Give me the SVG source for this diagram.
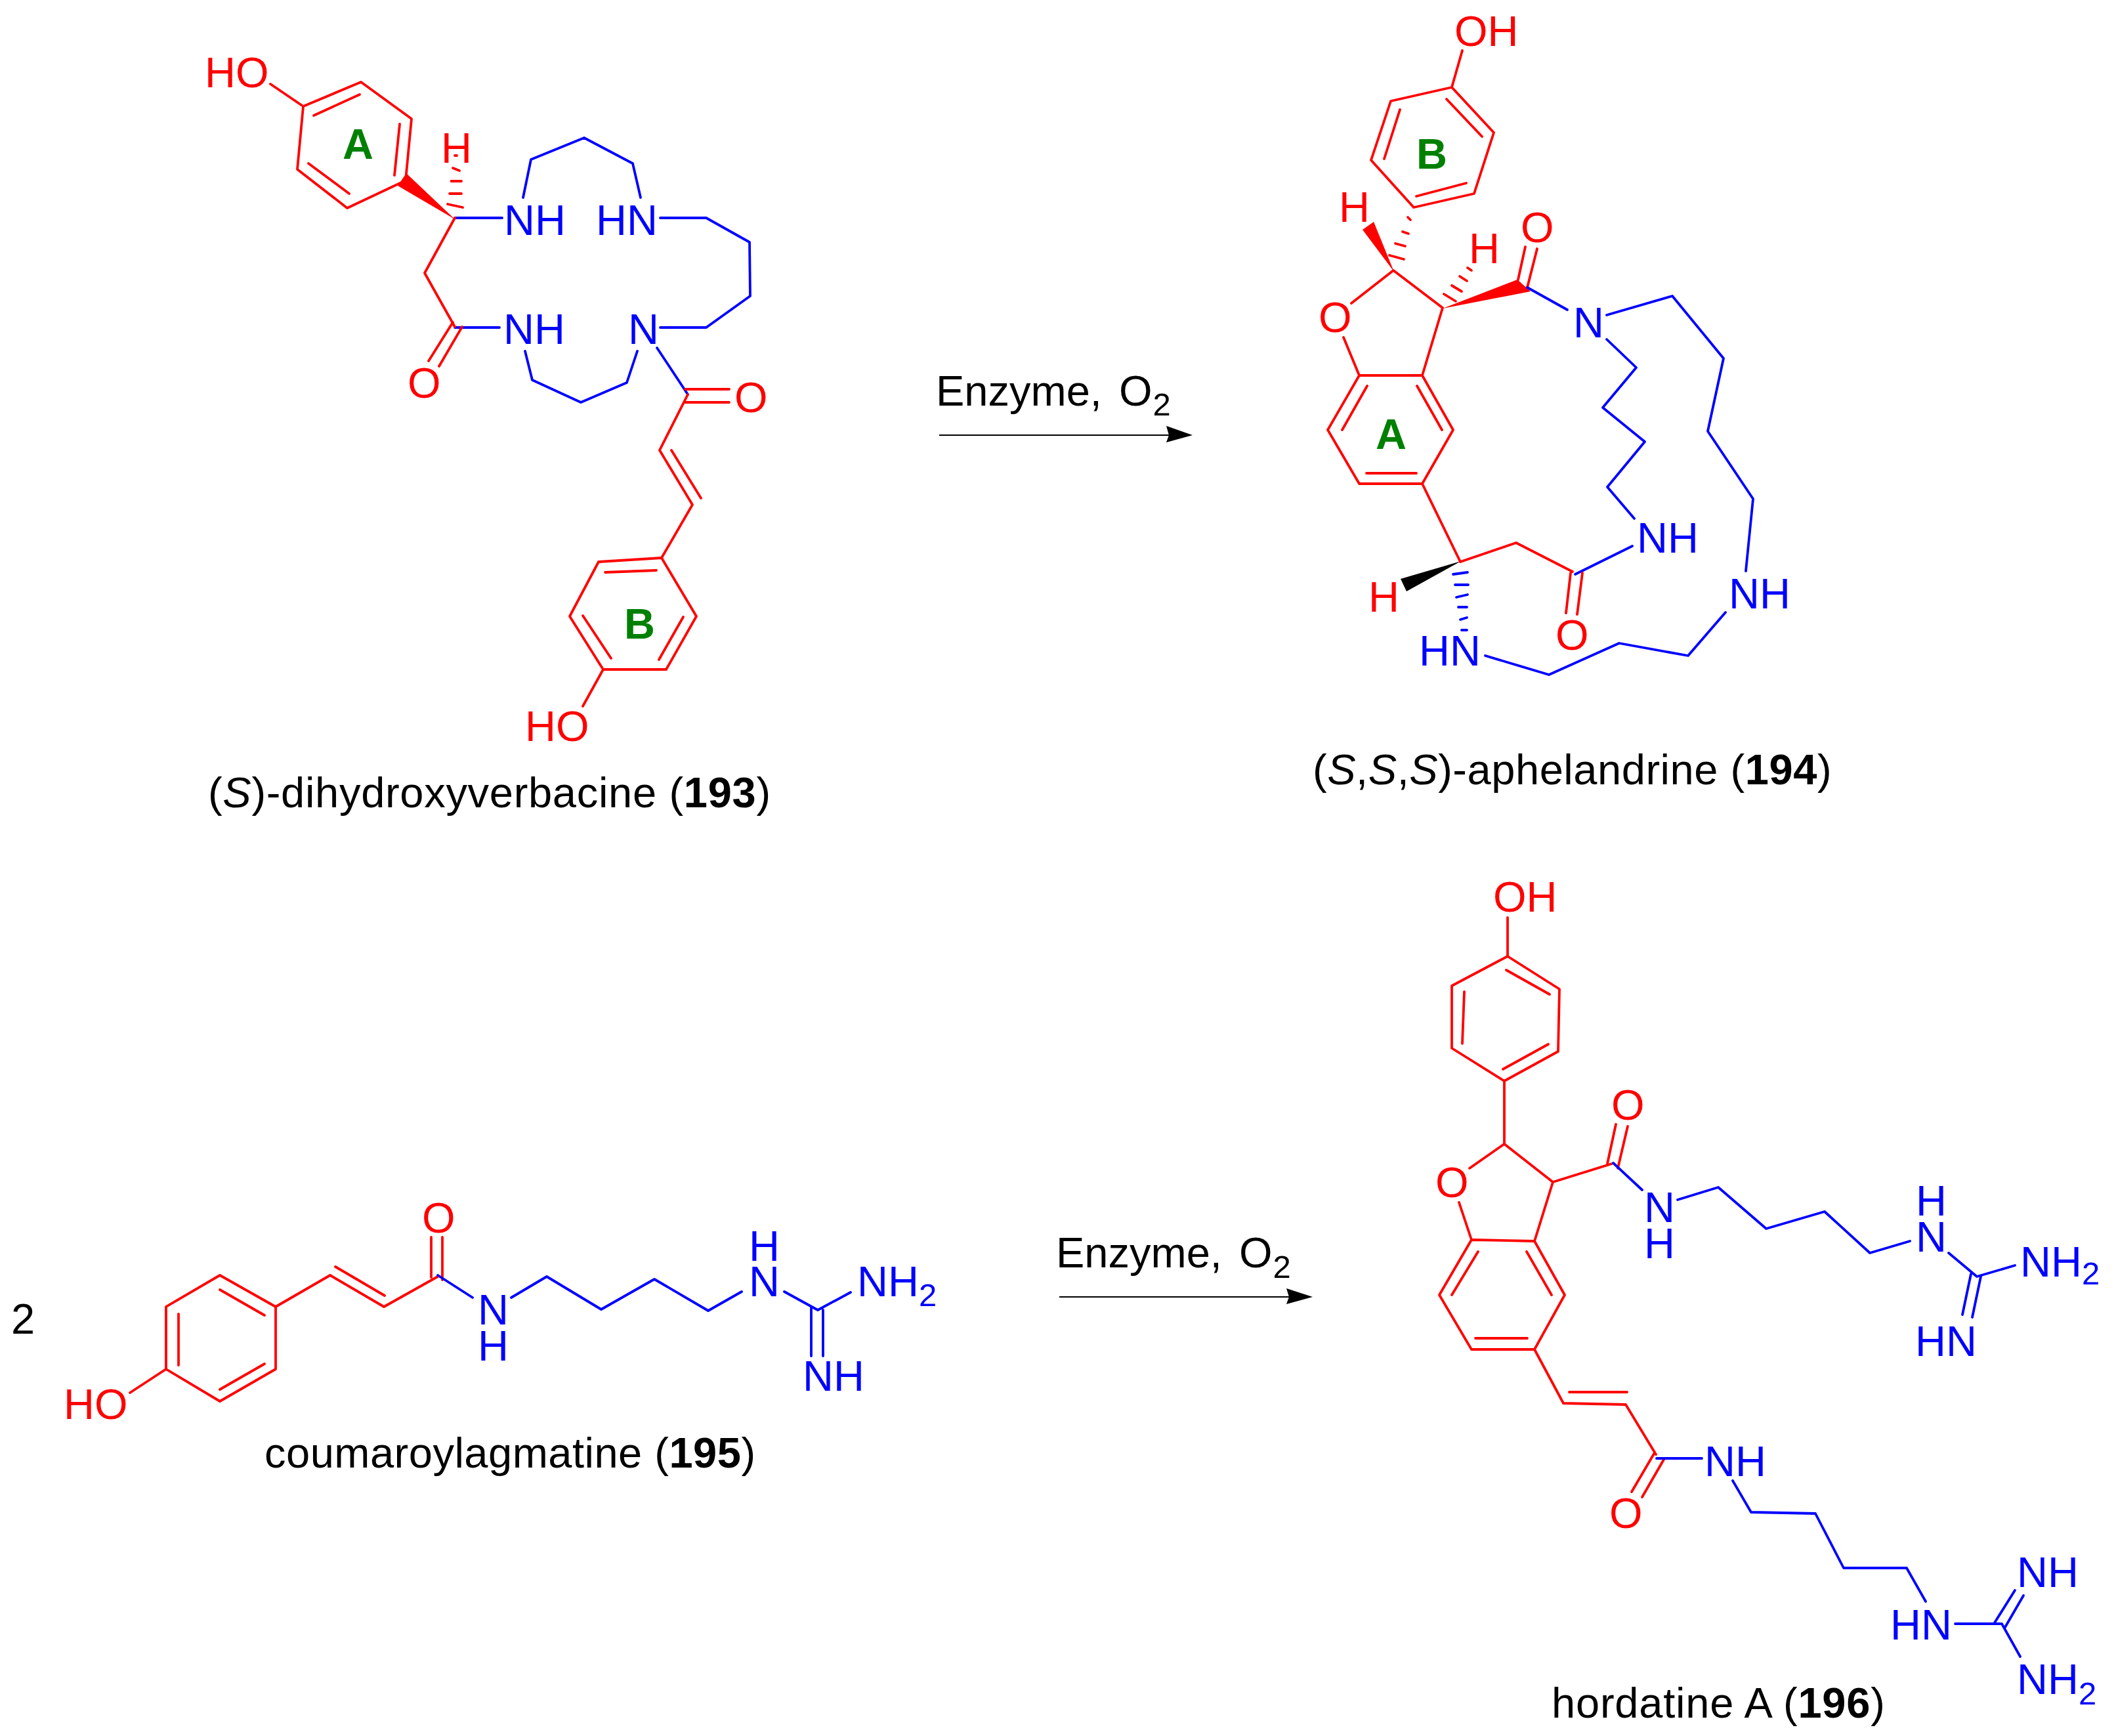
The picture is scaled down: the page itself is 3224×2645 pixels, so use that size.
<svg xmlns="http://www.w3.org/2000/svg" width="3224" height="2645" viewBox="0 0 3224 2645">
<style>
text{font-family:"Liberation Sans",Arial,sans-serif;font-size:65px}
.t{fill:#000}.tr{fill:#f00}.tb{fill:#00f}.tg{fill:#008000;font-weight:bold}
.s{font-size:49px}
.i{font-style:italic}.bd{font-weight:bold}
.r,.b,.k{fill:none;stroke-width:3.8;stroke-linecap:round;stroke-linejoin:round}
.r{stroke:#f00}.b{stroke:#00f}.k{stroke:#000;stroke-width:2.2;stroke-linecap:butt}
.wr{fill:#f00}.wk{fill:#000}
</style>
<rect width="3224" height="2645" fill="#fff"/>

<g id="compound-193">
<path class="r" d="M462,162L550,125L627,181L618,275L529,317L453,258Z"/>
<path class="r" d="M412,128L462,162M478,176L548,144M609,189L601,267M470,249L532,295"/>
<polygon class="wr" points="693,334 619,264 606,283"/>
<path class="r" d="M682,311L705,316M685,295L703,295M687.500,276L703,276M690,256L700,260M693,237L696,237"/>
<path class="b" d="M693,332L765,332M693,499L761,499M797,301L809,243L890,210L964,249L976,301M1006,332L1076,332L1142,369L1143,451L1076,499L1006,499M800,535L811,579L885,613L955,583L971,535M1001,530L1048,601"/>
<path class="r" d="M693,332L647,416L693,498M690,491L653,550M704,498L669,558M1044,593L1111,593M1044,613L1111,613M1048,601L1005,686L1055,769L1008,850M1023,686L1068,759"/>
<path class="r" d="M1008,850L1061,939L1015,1020L919,1020L868,939L912,856ZM922,872L1000,869M1041,940L1004,1005M888,938L931,1003M919,1020L888,1076"/>
<text class="tr" x="312" y="133">HO</text>
<text class="tr" x="672" y="248">H</text>
<text class="tb" x="768" y="358">NH</text>
<text class="tb" x="908" y="358">HN</text>
<text class="tr" x="621" y="606">O</text>
<text class="tb" x="767" y="524">NH</text>
<text class="tb" x="957" y="524">N</text>
<text class="tr" x="1119" y="628">O</text>
<text class="tg" x="522" y="242">A</text>
<text class="tg" x="951" y="973">B</text>
<text class="tr" x="800" y="1129">HO</text>
<text class="t" x="317" y="1230" letter-spacing="0.7">(<tspan class="i">S</tspan>)-dihydroxyverbacine (<tspan class="bd">193</tspan>)</text>
</g>

<g id="compound-194">
<path class="r" d="M2212,133L2276,202L2246,295L2154,316L2089,244L2119,154ZM2228,77L2212,133M2204,151L2258,208M2234,279L2158,299M2109,242L2133,167"/>
<path class="r" d="M2117,389L2139,395M2126,371L2141,375M2137,353L2146,356M2145,331L2149,335"/>
<polygon class="wr" points="2124,414 2076,350 2093,338"/>
<path class="r" d="M2059,462L2123,412L2198,469L2167,572L2071,572L2047,514"/>
<path class="r" d="M2200,448L2218,459M2212,435L2227,444M2224,421L2235,428M2236,408L2242,412"/>
<polygon class="wr" points="2198,470 2312,426 2332,444"/>
<path class="r" d="M2313,426L2324,376M2327,438L2342,379"/>
<path class="b" d="M2327,438L2388,472M2448,480L2548,451L2626,546L2602,657L2671,760L2660,870M2448,517L2493,560L2442,621L2506,673L2449,742L2490,790M2629,933L2572,999L2467,980L2360,1028L2263,999M2400,875L2487,832"/>
<path class="r" d="M2071,572L2023,655L2071,737L2167,737L2214,655L2167,572M2083,588L2045,655M2159,588L2197,655M2082,721L2158,721M2167,737L2225,856"/>
<polygon class="wk" points="2226,855 2134,882 2143,901"/>
<path class="r" d="M2225,856L2310,827L2396,871M2393,873L2386,934M2411,873L2403,936"/>
<path class="b" d="M2214,875L2236,872M2217,891L2237,891M2219,910L2236,906M2222,925L2235,925M2225,944L2235,941M2227,960L2235,960"/>
<text class="tr" x="2216" y="70">OH</text>
<text class="tr" x="2040" y="338">H</text>
<text class="tr" x="2238" y="401">H</text>
<text class="tr" x="2317" y="369">O</text>
<text class="tr" x="2009" y="506">O</text>
<text class="tb" x="2397" y="514">N</text>
<text class="tg" x="2158" y="257">B</text>
<text class="tg" x="2096" y="684">A</text>
<text class="tb" x="2494" y="842">NH</text>
<text class="tb" x="2634" y="927">NH</text>
<text class="tr" x="2085" y="932">H</text>
<text class="tr" x="2370" y="990">O</text>
<text class="tb" x="2162" y="1014">HN</text>
<text class="t" x="2000" y="1195" letter-spacing="0.55">(<tspan class="i">S</tspan>,<tspan class="i">S</tspan>,<tspan class="i">S</tspan>)-aphelandrine (<tspan class="bd">194</tspan>)</text>
</g>

<g id="compound-195">
<path class="r" d="M335,1943L420,1991L420,2086L335,2135L253,2086L253,1991ZM335,1965L403,2004M272,2002L272,2080M335,2117L403,2078M253,2086L198,2122"/>
<path class="r" d="M420,1991L503,1943L585,1991L667,1945M511,1930L586,1974M657,1946L657,1885M674,1950L674,1885"/>
<path class="b" d="M667,1943L720,1977M779,1977L833,1945L916,1995L997,1949L1079,1997L1130,1968M1195,1968L1246,1996L1296,1969M1236,1993L1236,2066M1254,1996L1254,2066"/>
<text class="t" x="17" y="2032">2</text>
<text class="tr" x="97" y="2162">HO</text>
<text class="tr" x="643" y="1878">O</text>
<text class="tb" x="728" y="2018">N</text>
<text class="tb" x="728" y="2073">H</text>
<text class="tb" x="1141" y="1921">H</text>
<text class="tb" x="1141" y="1975">N</text>
<text class="tb" x="1306" y="1975">NH<tspan class="s" dy="15">2</tspan></text>
<text class="tb" x="1223" y="2119">NH</text>
<text class="t" x="403" y="2236" letter-spacing="0.5">coumaroylagmatine (<tspan class="bd">195</tspan>)</text>
</g>

<g id="compound-196">
<path class="r" d="M2297,1457L2376,1507L2374,1602L2292,1647L2212,1597L2212,1502ZM2297,1398L2297,1457M2295,1478L2361,1515M2359,1591L2290,1629M2228,1590L2231,1511M2292,1647L2292,1743"/>
<path class="r" d="M2239,1780L2292,1743L2366,1801L2338,1891M2223,1832L2242,1889M2366,1801L2456,1773M2449,1773L2462,1713M2465,1780L2480,1716"/>
<path class="r" d="M2242,1889L2338,1891L2384,1973L2338,2056L2242,2056L2193,1973ZM2252,1907L2212,1973M2326,1907L2364,1973M2248,2039L2327,2039"/>
<path class="r" d="M2338,2056L2382,2138L2477,2140L2523,2216M2391,2121L2479,2121M2520,2215L2486,2273M2536,2222L2502,2281"/>
<path class="b" d="M2458,1772L2502,1813M2556,1828L2618,1809L2691,1872L2780,1846L2849,1909L2910,1891M2969,1909L3012,1945L3070,1928M3003,1941L2990,2003M3018,1945L3005,2007"/>
<path class="b" d="M2524,2222L2593,2222M2640,2256L2668,2304L2766,2306L2809,2389L2905,2389L2934,2440M2979,2474L3048,2474M3038,2474L3070,2423M3054,2481L3083,2431M3050,2474L3078,2524"/>
<text class="tr" x="2275" y="1389">OH</text>
<text class="tr" x="2187" y="1824">O</text>
<text class="tr" x="2455" y="1706">O</text>
<text class="tb" x="2505" y="1862">N</text>
<text class="tb" x="2505" y="1917">H</text>
<text class="tb" x="2919" y="1852">H</text>
<text class="tb" x="2919" y="1907">N</text>
<text class="tb" x="3078" y="1945">NH<tspan class="s" dy="12">2</tspan></text>
<text class="tb" x="2918" y="2066">HN</text>
<text class="tr" x="2452" y="2328">O</text>
<text class="tb" x="2597" y="2249">NH</text>
<text class="tb" x="2880" y="2498">HN</text>
<text class="tb" x="3073" y="2418">NH</text>
<text class="tb" x="3073" y="2581">NH<tspan class="s" dy="16">2</tspan></text>
<text class="t" x="2364" y="2617" letter-spacing="0.8">hordatine A (<tspan class="bd">196</tspan>)</text>
</g>

<g id="connectors">
<path class="k" d="M1431,663L1782,663"/>
<polygon class="wk" points="1777,649 1817,663 1777,674 1781,663"/>
<path class="k" d="M1614,1976L1965,1976"/>
<polygon class="wk" points="1960,1963 2000,1976 1960,1987 1964,1976"/>
<text class="t" x="1426" y="618">Enzyme, <tspan dx="8">O</tspan><tspan class="s" dx="1" dy="15">2</tspan></text>
<text class="t" x="1609" y="1931">Enzyme, <tspan dx="8">O</tspan><tspan class="s" dx="1" dy="16">2</tspan></text>
</g>
</svg>
